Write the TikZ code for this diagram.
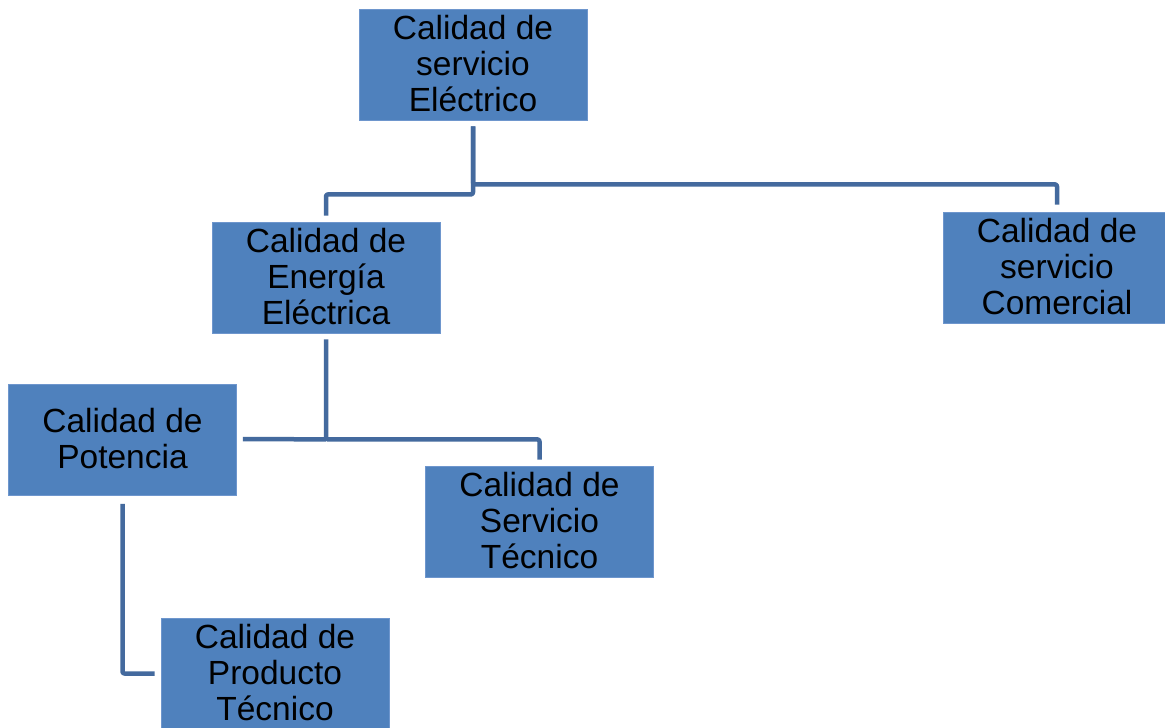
\documentclass[tikz,border=0pt]{standalone}
\usepackage{fontspec}
\usepackage{graphicx}
\setmainfont{Liberation Sans}
\usetikzlibrary{calc}
\definecolor{boxfill}{RGB}{79,129,189}
\definecolor{boxedge}{RGB}{110,150,205}
\definecolor{linkcol}{RGB}{68,106,158}
\newcommand\bt[1]{\fontsize{33.5}{36}\selectfont\raisebox{-3.5pt}[\height][\depth]{\begin{tabular}{@{}c@{}}#1\end{tabular}}}
\tikzset{
  orgbox/.style={rectangle, fill=boxfill, draw=boxedge, line width=0.8pt,
    minimum width=228pt, minimum height=111pt, inner sep=0pt, text=black},
  link/.style={draw=linkcol, line width=4.5pt, line join=round, rounded corners=2pt}
}
\begin{document}
\begin{tikzpicture}[x=1pt,y=-1pt]
\useasboundingbox[fill=white] (0,0) rectangle (1165,728);
\node[orgbox] (top)  at (473,64.5)   {\bt{Calidad de\\servicio\\Eléctrico}};
\node[orgbox] (ener) at (326,277.5)  {\bt{Calidad de\\Energía\\Eléctrica}};
\node[orgbox] (com)  at (1057,267.5) {\bt{Calidad de\\servicio\\Comercial}};
\node[orgbox] (pot)  at (122.5,440)  {\bt{Calidad de\\Potencia}};
\node[orgbox] (serv) at (539.5,521.5){\bt{Calidad de\\Servicio\\Técnico}};
\node[orgbox] (prod) at (275,673.5)  {\bt{Calidad de\\Producto\\Técnico}};
\draw[link] ($(top.south)+(0,6)$) -- ($(top.south)+(0,64)$) -| ($(com.north)+(0,-7)$);
\draw[link] ($(top.south)+(0,6)$) -- ($(top.south)+(0,74)$) -| ($(ener.north)+(0,-6)$);
\draw[link] ($(ener.south)+(0,6)$) -- ($(ener.south)+(0,106)$) -| ($(serv.north)+(0,-6)$);
\draw[link] ($(ener.south)+(0,106)$) -- ($(pot.east)+(6,-1)$);
\draw[link] ($(pot.south)+(0,8)$) |- ($(prod.west)+(-6,0)$);
\end{tikzpicture}
\end{document}
